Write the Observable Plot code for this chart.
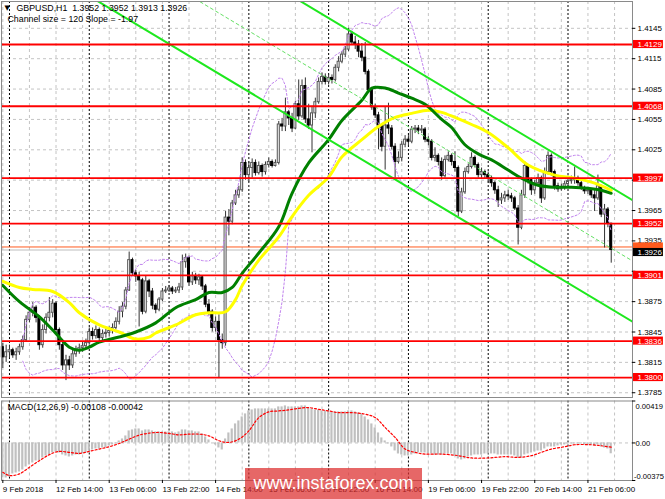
<!DOCTYPE html>
<html><head><meta charset="utf-8">
<script src="https://cdn.jsdelivr.net/npm/d3@7"></script>
<script src="https://cdn.jsdelivr.net/npm/@observablehq/plot@0.6"></script>
<style>
body{margin:0;background:#fff;}
#wrap{position:relative;width:665px;height:499px;overflow:hidden;font-family:"Liberation Sans",Arial,sans-serif;background:#fff;}
#main,#macd{position:absolute;left:0;}
#main{top:0}
#macd{top:400px}
#wm{position:absolute;left:245px;top:468px;width:177px;height:31px;background:rgba(220,45,45,0.72);color:#fff;font:18px "Liberation Sans",Arial,sans-serif;line-height:30px;text-align:center;}
</style></head><body>
<div id="wrap"><div id="main"></div><div id="macd"></div><div id="wm">www.instaforex.com</div></div>
<script>
// ---------- DATA (GBPUSD H1, bar 0 = 9 Feb 2018 22:00) ----------
const firstOpen = 1.3830;
const closes = [
1.3820,1.3825,1.3827,1.3822,1.3825,1.3830,1.3837,1.3857,1.3864,1.3869,
1.3859,1.3832,1.3847,1.3859,1.3864,1.3873,1.3847,1.3832,1.3812,1.3817,
1.3812,1.3823,1.3826,1.3829,1.3831,1.3834,1.3845,1.3841,1.3847,1.3839,
1.3843,1.3844,1.3846,1.3849,1.3855,1.3865,1.3870,1.3886,1.3916,1.3903,
1.3900,1.3896,1.3865,1.3895,1.3885,1.3871,1.3867,1.3877,1.3885,1.3886,
1.3888,1.3885,1.3886,1.3889,1.3914,1.3918,1.3894,1.3900,1.3896,1.3899,
1.3890,1.3872,1.3865,1.3849,1.3855,1.3837,1.3834,1.3958,1.3954,1.3972,
1.3980,1.3985,1.4012,1.4000,1.4007,1.4012,1.4002,1.4009,1.4003,1.4010,
1.4013,1.4009,1.4012,1.4050,1.4048,1.4062,1.4056,1.4046,1.4070,1.4058,
1.4088,1.4055,1.4049,1.4061,1.4072,1.4092,1.4097,1.4092,1.4096,1.4094,
1.4106,1.4112,1.4119,1.4124,1.4139,1.4131,1.4129,1.4122,1.4116,1.4102,
1.4084,1.4067,1.4059,1.4049,1.4028,1.4049,1.4046,1.4028,1.4013,1.4017,
1.4030,1.4035,1.4033,1.4045,1.4046,1.4044,1.4045,1.4035,1.4033,1.4017,
1.4019,1.4013,1.3999,1.4015,1.4019,1.4013,1.4007,1.3964,1.3983,1.4003,
1.4008,1.4017,1.4010,1.4000,1.4003,1.4000,1.3997,1.3992,1.3985,1.3975,
1.3977,1.3980,1.3979,1.3977,1.3967,1.3948,1.3980,1.4009,1.3995,1.3985,
1.3992,1.3997,1.3977,1.4003,1.4019,1.4003,1.3989,1.3986,1.3988,1.3991,
1.3994,1.3995,1.3997,1.3992,1.3987,1.3984,1.3985,1.3980,1.3977,1.3989,
1.3961,1.3966,1.3952,1.3926];
const highs = [
1.3834,1.3832,1.3832,1.3829,1.3829,1.3833,1.3841,1.3861,1.3869,1.3874,
1.3871,1.3861,1.3852,1.3863,1.3879,1.3877,1.3875,1.3849,1.3835,1.3822,
1.3821,1.3827,1.3831,1.3833,1.3835,1.3838,1.3849,1.3849,1.3851,1.3849,
1.3847,1.3848,1.3850,1.3853,1.3859,1.3870,1.3874,1.3889,1.3924,1.3918,
1.3906,1.3904,1.3898,1.3900,1.3897,1.3888,1.3873,1.3879,1.3888,1.3890,
1.3891,1.3890,1.3889,1.3893,1.3921,1.3922,1.3920,1.3904,1.3903,1.3902,
1.3900,1.3892,1.3877,1.3867,1.3860,1.3862,1.3843,1.3964,1.3966,1.3975,
1.3985,1.3989,1.4017,1.4015,1.4013,1.4016,1.4015,1.4013,1.4011,1.4013,
1.4017,1.4015,1.4015,1.4053,1.4056,1.4076,1.4064,1.4061,1.4073,1.4094,
1.4094,1.4096,1.4070,1.4068,1.4076,1.4096,1.4101,1.4100,1.4099,1.4099,
1.4109,1.4117,1.4122,1.4127,1.4145,1.4142,1.4137,1.4133,1.4130,1.4131,
1.4104,1.4086,1.4070,1.4062,1.4050,1.4067,1.4071,1.4049,1.4031,1.4023,
1.4033,1.4039,1.4039,1.4048,1.4049,1.4049,1.4049,1.4047,1.4038,1.4035,
1.4027,1.4021,1.4017,1.4019,1.4023,1.4021,1.4023,1.4009,1.3987,1.4007,
1.4011,1.4022,1.4019,1.4012,1.4007,1.4005,1.4003,1.3999,1.3994,1.3989,
1.3982,1.3984,1.3985,1.3982,1.3979,1.3970,1.3985,1.4013,1.4010,1.3997,
1.3995,1.4001,1.3999,1.4007,1.4023,1.4021,1.4005,1.3992,1.3991,1.3994,
1.3999,1.3999,1.4008,1.3999,1.3995,1.3989,1.3988,1.3986,1.3985,1.4000,
1.3990,1.3971,1.3968,1.3952];
const lows = [
1.3809,1.3815,1.3819,1.3819,1.3817,1.3822,1.3827,1.3835,1.3854,1.3860,
1.3854,1.3827,1.3829,1.3843,1.3855,1.3859,1.3842,1.3827,1.3807,1.3797,
1.3807,1.3809,1.3820,1.3823,1.3825,1.3828,1.3832,1.3837,1.3838,1.3835,
1.3836,1.3839,1.3840,1.3843,1.3847,1.3852,1.3859,1.3867,1.3885,1.3900,
1.3894,1.3850,1.3862,1.3863,1.3879,1.3867,1.3863,1.3865,1.3875,1.3883,
1.3884,1.3882,1.3883,1.3883,1.3886,1.3908,1.3890,1.3891,1.3892,1.3891,
1.3886,1.3869,1.3861,1.3845,1.3845,1.3799,1.3828,1.3831,1.3940,1.3951,
1.3970,1.3977,1.3983,1.3995,1.3993,1.3997,1.3999,1.4000,1.3998,1.4000,
1.4007,1.4007,1.4008,1.4010,1.4043,1.4043,1.4049,1.4042,1.4045,1.4054,
1.4056,1.4051,1.4045,1.4022,1.4056,1.4070,1.4089,1.4089,1.4089,1.4090,
1.4092,1.4102,1.4110,1.4116,1.4122,1.4128,1.4124,1.4116,1.4112,1.4099,
1.4081,1.4064,1.4056,1.4025,1.4023,1.4005,1.4040,1.4025,1.3997,1.4011,
1.4013,1.4027,1.4029,1.4031,1.4041,1.4040,1.4041,1.4032,1.4029,1.4014,
1.4013,1.4009,1.3995,1.3997,1.4013,1.4009,1.4003,1.3959,1.3962,1.3981,
1.4001,1.4006,1.4007,1.3997,1.3997,1.3996,1.3992,1.3988,1.3981,1.3968,
1.3971,1.3973,1.3975,1.3973,1.3965,1.3931,1.3946,1.3977,1.3991,1.3980,
1.3981,1.3989,1.3972,1.3975,1.4000,1.3999,1.3985,1.3983,1.3984,1.3985,
1.3989,1.3991,1.3991,1.3989,1.3985,1.3981,1.3981,1.3977,1.3964,1.3975,
1.3958,1.3928,1.3948,1.3913];

// moving averages (bar index, price)
const greenBars = [0,5,11,15,20,23,26,29,35,40,46,52,58,62,66,69,72,77,83,87,92,98,102,108,111,115,119,123,127,132,135,139,143,147,152,156,161,166,171,176,180,183];
const greenMA  = [1.3891,1.3875,1.3860,1.3847,1.3830,1.3827,1.3830,1.3835,1.3840,1.3845,1.3854,1.3869,1.3877,1.3884,1.3884,1.3889,1.3903,1.3923,1.3949,1.3982,1.4012,1.4035,1.4054,1.4074,1.4086,1.4086,1.4081,1.4076,1.4070,1.4055,1.4047,1.4030,1.4021,1.4015,1.4005,1.3997,1.3990,1.3988,1.3988,1.3987,1.3985,1.3982];
const yellowBars = [0,5,9,15,20,23,29,35,40,44,46,52,58,62,67,70,72,77,83,87,92,98,102,108,113,118,123,128,132,136,141,146,152,158,166,172,178,183];
const yellowMA  = [1.3895,1.3889,1.3887,1.3885,1.3874,1.3864,1.3852,1.3845,1.3838,1.3840,1.3844,1.3852,1.3862,1.3864,1.3865,1.3877,1.3891,1.3916,1.3939,1.3959,1.3980,1.3998,1.4018,1.4035,1.4048,1.4057,1.4061,1.4064,1.4062,1.4057,1.4050,1.4042,1.4027,1.4010,1.4000,1.3997,1.3992,1.3985];

// price channel (from header: size 120 pips, slope -1.97 pips/bar)
const channelBars  = [-1, 190];
const channelUpper = [1.4350, 1.3974];
const channelSize  = 0.0120;

// horizontal levels & axis
const levels = [1.4129, 1.4068, 1.3997, 1.3952, 1.3901, 1.3836, 1.3800];
const priceGrid = [1.4145,1.4115,1.4085,1.4055,1.4025,1.3995,1.3965,1.3935,1.3905,1.3875,1.3845,1.3815,1.3785];
// labels hidden behind level boxes in the reference are not printed
const priceTickLabels = [1.4145,1.4115,1.4085,1.4055,1.4025,1.3965,1.3935,1.3875,1.3845,1.3815,1.3785];
const bidPrice = 1.3926, askPrice = 1.3929;

// MACD(12,26,9)
const macdMain = [
-0.0035,-0.0035,-0.0034,-0.0031,-0.0030,-0.0029,-0.0027,-0.0024,-0.0022,-0.0020,
-0.0018,-0.0018,-0.0015,-0.0013,-0.0012,-0.0010,-0.0009,-0.0010,-0.0012,-0.0013,
-0.0014,-0.0013,-0.0012,-0.0012,-0.0011,-0.0010,-0.0008,-0.0007,-0.0006,-0.0006,
-0.0005,-0.0005,-0.0003,-0.0002,-0.0001,0.0002,0.0004,0.0007,0.0012,0.0013,
0.0014,0.0014,0.0012,0.0013,0.0013,0.0012,0.0011,0.0011,0.0011,0.0011,
0.0011,0.0011,0.0010,0.0011,0.0013,0.0013,0.0012,0.0012,0.0011,0.0011,
0.0009,0.0006,0.0003,0.0000,-0.0002,-0.0005,-0.0007,0.0004,0.0010,0.0014,
0.0019,0.0022,0.0026,0.0029,0.0032,0.0033,0.0034,0.0034,0.0034,0.0034,
0.0034,0.0034,0.0034,0.0036,0.0036,0.0037,0.0036,0.0036,0.0036,0.0036,
0.0037,0.0037,0.0035,0.0034,0.0033,0.0033,0.0032,0.0032,0.0032,0.0031,
0.0031,0.0031,0.0031,0.0031,0.0032,0.0032,0.0031,0.0030,0.0029,0.0026,
0.0023,0.0019,0.0015,0.0010,0.0005,0.0002,-0.0001,-0.0004,-0.0008,-0.0011,
-0.0012,-0.0013,-0.0013,-0.0012,-0.0011,-0.0010,-0.0010,-0.0010,-0.0011,-0.0011,
-0.0012,-0.0012,-0.0012,-0.0011,-0.0011,-0.0011,-0.0013,-0.0016,-0.0017,-0.0016,
-0.0014,-0.0013,-0.0012,-0.0012,-0.0012,-0.0011,-0.0011,-0.0011,-0.0011,-0.0012,
-0.0012,-0.0012,-0.0012,-0.0012,-0.0013,-0.0015,-0.0015,-0.0012,-0.0011,-0.0010,
-0.0009,-0.0008,-0.0008,-0.0006,-0.0004,-0.0004,-0.0004,-0.0003,-0.0002,-0.0002,
-0.0001,-0.0001,-0.0001,-0.0001,-0.0001,-0.0002,-0.0002,-0.0002,-0.0003,-0.0002,
-0.0004,-0.0005,-0.0006,-0.00108];
const signalBars = [0,2,5,8,11,14,17,20,23,26,29,32,35,38,41,44,47,50,53,56,59,62,65,68,71,74,77,80,83,86,89,92,95,98,101,105,109,112,115,118,121,124,127,132,137,141,146,151,155,159,162,165,169,172,177,180,183];
const signalValues = [-0.00293,-0.00326,-0.00309,-0.00243,-0.00177,-0.00117,-0.00084,-0.00094,-0.00104,-0.00084,-0.00061,-0.00038,-0.00005,0.00038,0.00078,0.00098,0.00105,0.00095,0.00081,0.00088,0.00088,0.00071,0.00022,0.00005,0.00038,0.00121,0.00253,0.00310,0.00320,0.00330,0.00346,0.00353,0.00336,0.00320,0.00303,0.00303,0.00287,0.00254,0.00154,0.00055,-0.00061,-0.00094,-0.00111,-0.00111,-0.00127,-0.00150,-0.00150,-0.00137,-0.00144,-0.00127,-0.00094,-0.00061,-0.00038,-0.00018,-0.00018,-0.00028,-0.00042];
const macdAxisValues = [0.00419, 0, -0.00375];
const macdAxisLabels = ["0.00419", "0.00", "-0.00375"];

// time axis
const dayStartBars = [2,26,50,74,98,122,146,170];
const labelBars = [0,16,32,48,64,80,96,112,128,144,160,176];
const timeLabels = ["9 Feb 2018","12 Feb 14:00","13 Feb 06:00","13 Feb 22:00","14 Feb 14:00","15 Feb 06:00","15 Feb 22:00","16 Feb 14:00","19 Feb 06:00","19 Feb 22:00","20 Feb 14:00","21 Feb 06:00"];
const gridStep = 8;

// ---------- derived ----------
const candles = closes.map((c, i) => {
  const o = i === 0 ? firstOpen : closes[i - 1];
  return {i, o, c, h: Math.max(highs[i], o, c), l: Math.min(lows[i], o, c)};
});
const bull = candles.filter(d => d.c >= d.o), bear = candles.filter(d => d.c < d.o);
// Bollinger bands (20, 2) from the closes
const bb = candles.map((d, i) => {
  const s = closes.slice(Math.max(0, i - 19), i + 1);
  const m = d3.mean(s), sd = Math.sqrt(d3.mean(s, v => (v - m) ** 2));
  return {i, up: m + 2 * sd, lo: m - 2 * sd};
}).filter(d => d.i >= 6);
const chan = channelBars.map((b, k) => ({b, up: channelUpper[k], mid: channelUpper[k] - channelSize / 2, lo: channelUpper[k] - channelSize}));
const gridBars = d3.range(0, 190, gridStep);
const last = candles[candles.length - 1];
const fmt4 = d => d.toFixed(4);

const X_DOMAIN = [-0.4, 189.4];
const FONT = "Liberation Sans, Arial, sans-serif";
const GRID = "#c4c4c4";
const boxR = X_DOMAIN[1] + 9.3, boxL = X_DOMAIN[1] + 0.3;

const main = Plot.plot({
  width: 665, height: 400,
  marginLeft: 1, marginRight: 33, marginTop: 1, marginBottom: 3,
  x: {domain: X_DOMAIN, axis: null, label: null},
  y: {domain: [1.37803, 1.41715], axis: null, label: null},
  style: {background: "white", fontFamily: FONT, color: "black", overflow: "visible"},
  marks: [
    Plot.ruleY(priceGrid, {stroke: GRID, strokeDasharray: "3,3"}),
    Plot.ruleX(gridBars, {stroke: GRID, strokeDasharray: "3,3"}),
    Plot.ruleX(dayStartBars, {stroke: "#000", strokeDasharray: "2,2", strokeWidth: 1}),
    Plot.ruleY([bidPrice], {stroke: "#bdbdbd"}),
    Plot.ruleY([askPrice], {stroke: "#ff5a1e"}),
    Plot.ruleX(candles, {x: "i", y1: "l", y2: "h", stroke: "#333", strokeWidth: 1}),
    Plot.rect(bull, {x1: d => d.i - 0.3, x2: d => d.i + 0.3, y1: "o", y2: "c", fill: "white", stroke: "#555", strokeWidth: 1}),
    Plot.rect(bear, {x1: d => d.i - 0.3, x2: d => d.i + 0.3, y1: "o", y2: "c", fill: "black", stroke: "#000", strokeWidth: 1}),
    Plot.line(bb, {x: "i", y: "up", stroke: "#c184ee", strokeDasharray: "2,2", strokeWidth: 1, clip: true}),
    Plot.line(bb, {x: "i", y: "lo", stroke: "#c184ee", strokeDasharray: "2,2", strokeWidth: 1, clip: true}),
    Plot.line(yellowMA, {x: yellowBars, y: d => d, stroke: "#ffff00", strokeWidth: 3, curve: "catmull-rom"}),
    Plot.line(greenMA, {x: greenBars, y: d => d, stroke: "#008000", strokeWidth: 3, curve: "catmull-rom"}),
    Plot.line(chan, {x: "b", y: "up", stroke: "#1ee81e", strokeWidth: 2, clip: true}),
    Plot.line(chan, {x: "b", y: "lo", stroke: "#1ee81e", strokeWidth: 2, clip: true}),
    Plot.line(chan, {x: "b", y: "mid", stroke: "#66e066", strokeWidth: 1, strokeDasharray: "3,3", clip: true}),
    Plot.ruleY(levels, {stroke: "#ff0000", strokeWidth: 1.8}),
    Plot.frame({stroke: "#8a8a8a"}),
    Plot.ruleY(priceGrid, {x1: X_DOMAIN[1], x2: X_DOMAIN[1] + 1, stroke: "#000"}),
    Plot.text(priceTickLabels, {x: X_DOMAIN[1], y: d => d, text: fmt4, dx: 5, textAnchor: "start", fontSize: 8, fill: "#000"}),
    Plot.rect([askPrice], {x1: boxL, x2: boxR, y1: d => d - 0.0004, y2: d => d + 0.0004, fill: "#ff5a1e"}),
    Plot.rect([bidPrice], {x1: boxL, x2: boxR, y1: d => d - 0.0004, y2: d => d + 0.0004, fill: "#000", dy: 2.5}),
    Plot.text([bidPrice], {x: X_DOMAIN[1], y: d => d, text: fmt4, dx: 5, dy: 2.5, textAnchor: "start", fill: "white", fontSize: 8}),
    Plot.rect(levels, {x1: boxL, x2: boxR, y1: d => d - 0.0004, y2: d => d + 0.0004, fill: "#ff0000"}),
    Plot.text(levels, {x: X_DOMAIN[1], y: d => d, text: fmt4, dx: 5, textAnchor: "start", fill: "white", fontSize: 8}),
    Plot.text(["\u25BC"], {frameAnchor: "top-left", dx: 3, dy: 4, fontSize: 7, fontFamily: "DejaVu Sans", textAnchor: "start", lineAnchor: "top", fill: "#000"}),
    Plot.text([`GBPUSD,H1 \u00a0${fmt4(last.o)} ${fmt4(last.h)} ${fmt4(last.l)} ${fmt4(last.c)}`], {frameAnchor: "top-left", dx: 15, dy: 3, fontSize: 8.8, textAnchor: "start", lineAnchor: "top", fill: "#000"}),
    Plot.text([`Channel size = ${Math.round(channelSize * 10000)} Slope = -1.97`], {frameAnchor: "top-left", dx: 6, dy: 14.5, fontSize: 8.8, textAnchor: "start", lineAnchor: "top", fill: "#000"})
  ]
});
document.getElementById("main").append(main);

const histData = macdMain.map((v, i) => ({i, v}));
const sigData = signalBars.map((b, k) => ({bar: b, v: signalValues[k]}));
const macdTicks = macdAxisValues.map((v, k) => ({v, label: macdAxisLabels[k]}));
const macd = Plot.plot({
  width: 665, height: 99,
  marginLeft: 1, marginRight: 33, marginTop: 0.5, marginBottom: 19,
  x: {domain: X_DOMAIN, axis: null, label: null},
  y: {domain: [-0.00375, 0.00419], axis: null, label: null},
  style: {background: "white", fontFamily: FONT, color: "black", overflow: "visible"},
  marks: [
    Plot.ruleX(gridBars, {stroke: GRID, strokeDasharray: "3,3"}),
    Plot.ruleX(dayStartBars, {stroke: "#000", strokeDasharray: "2,2", strokeWidth: 1}),
    Plot.ruleY([0], {stroke: GRID, strokeDasharray: "3,3"}),
    Plot.rect(histData, {x1: d => d.i - 0.33, x2: d => d.i + 0.33, y1: 0, y2: "v", fill: "#c0c0c0"}),
    Plot.line(sigData, {x: "bar", y: "v", stroke: "#ff0000", strokeDasharray: "2,2", strokeWidth: 1.2, curve: "catmull-rom"}),
    Plot.frame({stroke: "#8a8a8a"}),
    Plot.ruleY(macdAxisValues, {x1: X_DOMAIN[1], x2: X_DOMAIN[1] + 1, stroke: "#000"}),
    Plot.text(macdTicks.slice(0, 1), {x: X_DOMAIN[1], y: "v", text: "label", dx: 3, dy: 5.5, textAnchor: "start", fontSize: 7.6, fill: "#000"}),
    Plot.text(macdTicks.slice(1, 2), {x: X_DOMAIN[1], y: "v", text: "label", dx: 3, dy: 1, textAnchor: "start", fontSize: 7.6, fill: "#000"}),
    Plot.text(macdTicks.slice(2, 3), {x: X_DOMAIN[1], y: "v", text: "label", dx: 1.5, dy: -4, textAnchor: "start", fontSize: 7.6, fill: "#000"}),
    Plot.axisX(labelBars, {anchor: "bottom", label: null, tickFormat: b => timeLabels[labelBars.indexOf(b)], textAnchor: "start", tickSize: 3, tickPadding: 3, fontSize: 8, stroke: "#000", fill: "#000"}),
    Plot.text([`MACD(12,26,9) ${macdMain[macdMain.length - 1].toFixed(5)} ${signalValues[signalValues.length - 1].toFixed(5)}`], {frameAnchor: "top-left", dx: 6, dy: 3, fontSize: 8.8, textAnchor: "start", lineAnchor: "top", fill: "#000"})
  ]
});
document.getElementById("macd").append(macd);
</script>
</body></html>
